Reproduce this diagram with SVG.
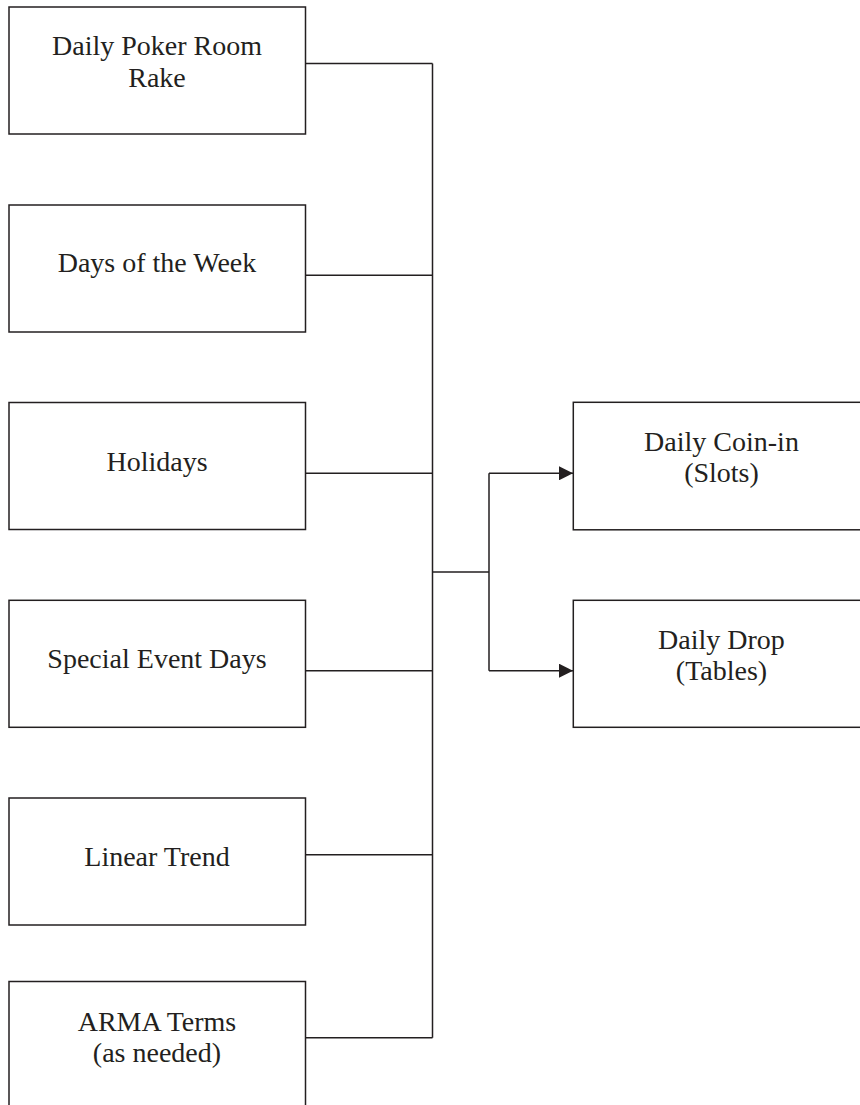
<svg xmlns="http://www.w3.org/2000/svg" width="860" height="1105" viewBox="0 0 860 1105">
<defs>
<style>
.box{fill:#fff;stroke:#231f20;stroke-width:1.5}
.lbl{font-family:"Liberation Serif","Times New Roman",serif;font-size:28px;fill:#231f20;text-anchor:middle}
.conn{fill:none;stroke:#231f20;stroke-width:1.5}
</style>
<marker id="arr" markerWidth="14" markerHeight="14" viewBox="0 0 14 14" refX="14" refY="7" orient="auto" markerUnits="userSpaceOnUse">
<path d="M0,0 L14,7 L0,14 Z" fill="#231f20"/>
</marker>
</defs>
<rect width="860" height="1105" fill="#fff"/>
<g id="connectors">
<path class="conn" d="M305.5,63.5 H432.5 M305.5,275.3 H432.5 M305.5,473.3 H432.5 M305.5,670.7 H432.5 M305.5,854.7 H432.5 M305.5,1037.7 H432.5 M432.5,63.5 V1037.7 M432.5,572 H489 M489,473.3 V670.7"/>
<path class="conn" d="M489,473.3 H573" marker-end="url(#arr)"/>
<path class="conn" d="M489,670.7 H573" marker-end="url(#arr)"/>
</g>
<g id="n1"><rect class="box" x="9" y="7" width="296.5" height="127"/><text class="lbl" x="157" y="55">Daily Poker Room</text><text class="lbl" x="157" y="87">Rake</text></g>
<g id="n2"><rect class="box" x="9" y="205" width="296.5" height="127"/><text class="lbl" x="157" y="272">Days of the Week</text></g>
<g id="n3"><rect class="box" x="9" y="402.5" width="296.5" height="127"/><text class="lbl" x="157" y="470.5">Holidays</text></g>
<g id="n4"><rect class="box" x="9" y="600.3" width="296.5" height="127"/><text class="lbl" x="157" y="668">Special Event Days</text></g>
<g id="n5"><rect class="box" x="9" y="798" width="296.5" height="127"/><text class="lbl" x="157" y="866">Linear Trend</text></g>
<g id="n6"><rect class="box" x="9" y="981.5" width="296.5" height="140"/><text class="lbl" x="157" y="1031">ARMA Terms</text><text class="lbl" x="157" y="1062">(as needed)</text></g>
<g id="n7"><rect class="box" x="573.3" y="402.3" width="296.5" height="127.5"/><text class="lbl" x="721.5" y="451">Daily Coin-in</text><text class="lbl" x="721.5" y="482">(Slots)</text></g>
<g id="n8"><rect class="box" x="573.3" y="600.3" width="296.5" height="127"/><text class="lbl" x="721.5" y="649">Daily Drop</text><text class="lbl" x="721.5" y="680">(Tables)</text></g>
</svg>
